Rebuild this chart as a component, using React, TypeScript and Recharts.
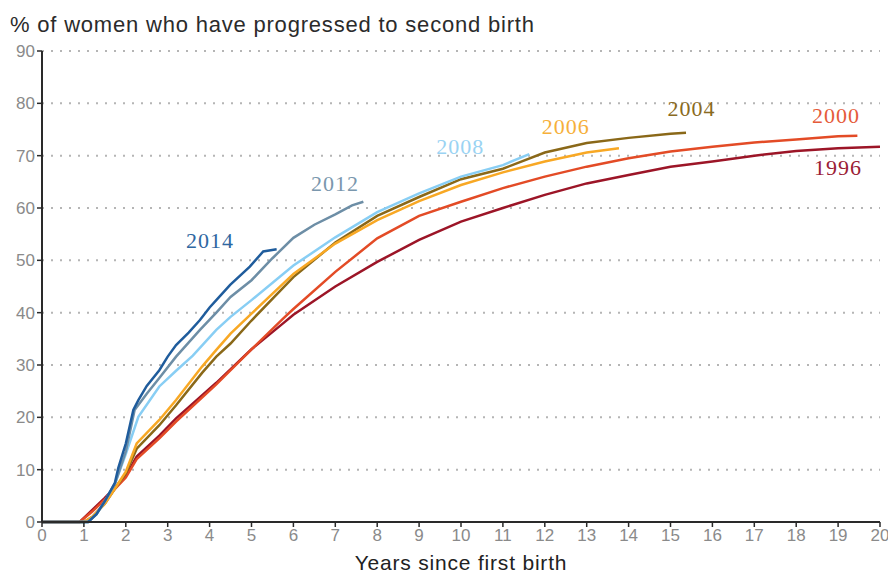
import React from "react";
import { LineChart, Line, XAxis, YAxis, CartesianGrid, ReferenceDot } from "recharts";

// Years since first birth (x) and % progressed to second birth (y), per cohort
const years2014 = [0, 1.1, 1.3, 1.5, 1.74, 1.82, 2.0, 2.18, 2.3, 2.5, 2.8, 3.0, 3.2, 3.5, 3.77, 4.0, 4.16, 4.49, 4.96, 5.28, 5.6];
const pct2014 = [0, 0, 1.5, 4, 7.5, 10.3, 15, 21.4, 23.3, 26, 29, 31.6, 33.8, 36.2, 38.6, 41, 42.4, 45.3, 48.8, 51.7, 52.1];

const years2012 = [0, 1.1, 1.3, 1.5, 1.75, 2.0, 2.21, 2.5, 2.8, 3.2, 3.77, 4.16, 4.5, 5, 5.5, 6, 6.5, 7, 7.4, 7.67];
const pct2012 = [0, 0, 1.5, 4, 7.5, 13.5, 21.4, 24.5, 27.5, 31.6, 36.7, 40, 43, 46.2, 50.4, 54.3, 56.8, 58.8, 60.5, 61.2];

const years2008 = [0, 1.1, 1.3, 1.5, 1.75, 2.0, 2.3, 2.8, 3.2, 3.6, 4.16, 4.5, 5, 6, 7, 8, 9, 10, 11, 11.63];
const pct2008 = [0, 0, 1.5, 4, 7.5, 13, 20.1, 25.9, 28.9, 31.8, 36.7, 39.2, 42.4, 49, 54.4, 59.2, 62.8, 66, 68.2, 70.3];

const years2006 = [0, 1.0, 1.2, 1.5, 1.75, 2.0, 2.26, 2.8, 3.2, 3.82, 4.16, 4.5, 5, 6, 7, 8, 9, 10, 11, 12, 13, 13.77];
const pct2006 = [0, 0, 1, 3.5, 6.5, 9.6, 15, 19.5, 23.3, 29.7, 32.9, 36, 39.8, 47.4, 53.2, 57.7, 61.3, 64.4, 66.8, 68.9, 70.6, 71.4];

const years2004 = [0, 1.0, 1.2, 1.5, 1.75, 2.0, 2.26, 2.8, 3.2, 3.82, 4.16, 4.5, 5, 6, 7, 8, 9, 10, 11, 12, 13, 14, 15, 15.37];
const pct2004 = [0, 0, 1, 3.5, 6.5, 9.3, 14, 18.5, 22.3, 28.5, 31.6, 34.1, 38.5, 46.8, 53.4, 58.5, 62.1, 65.5, 67.5, 70.6, 72.4, 73.4, 74.2, 74.4];

const years2000 = [0, 0.9, 1.2, 1.5, 2.0, 2.26, 2.8, 3.2, 4.16, 5, 5.76, 6, 7, 8, 9, 10, 11, 12, 13, 14, 15, 16, 17, 18, 19, 19.46];
const pct2000 = [0, 0, 2, 4.3, 8.5, 12, 16, 19.2, 26.3, 33, 38.9, 40.7, 47.8, 54.2, 58.5, 61.2, 63.8, 66, 67.9, 69.5, 70.8, 71.7, 72.5, 73.1, 73.7, 73.8];

const years1996 = [0, 0.9, 1.2, 1.5, 2.0, 2.26, 2.8, 3.2, 4.16, 5, 5.76, 6, 7, 8, 9, 10, 11, 12, 13, 14, 15, 16, 17, 18, 19, 20];
const pct1996 = [0, 0, 2.3, 4.6, 8.8, 12.5, 16.5, 19.8, 26.6, 33, 38, 39.6, 45, 49.7, 53.9, 57.4, 60, 62.5, 64.7, 66.3, 67.9, 68.9, 70, 70.9, 71.4, 71.7];

const xTicks = [0, 1, 2, 3, 4, 5, 6, 7, 8, 9, 10, 11, 12, 13, 14, 15, 16, 17, 18, 19, 20];
const yTicks = [0, 10, 20, 30, 40, 50, 60, 70, 80, 90];

const cohortNames = ["1996", "2000", "2004", "2006", "2008", "2012", "2014"];
// label anchor points in data units (years, %)
const labelYears = [19.0, 18.95, 15.5, 12.5, 9.98, 6.99, 4.01];
const labelPcts = [67.8, 77.8, 79.1, 75.7, 71.9, 64.8, 53.9];

const colors: Record<string, string> = {
  "1996": "#9c1527",
  "2000": "#e34b26",
  "2004": "#8a6818",
  "2006": "#f8a824",
  "2008": "#88cef4",
  "2012": "#6d8ea6",
  "2014": "#1f5c9c",
};
const labelColors: Record<string, string> = {
  "1996": "#9a2035",
  "2000": "#e55a3a",
  "2004": "#8a6a22",
  "2006": "#f6b03a",
  "2008": "#9ad3f3",
  "2012": "#7a97ad",
  "2014": "#2f67a1",
};

const zip = (xs: number[], ys: number[]) => xs.map((x, i) => ({ x, y: ys[i] }));

const series: { name: string; data: { x: number; y: number }[] }[] = [
  { name: "1996", data: zip(years1996, pct1996) },
  { name: "2000", data: zip(years2000, pct2000) },
  { name: "2004", data: zip(years2004, pct2004) },
  { name: "2006", data: zip(years2006, pct2006) },
  { name: "2008", data: zip(years2008, pct2008) },
  { name: "2012", data: zip(years2012, pct2012) },
  { name: "2014", data: zip(years2014, pct2014) },
];

const sans = "'Liberation Sans', Arial, Helvetica, sans-serif";
const serif = "'Liberation Serif', 'Times New Roman', serif";

export default function App() {
  return (
    <div style={{ position: "absolute", left: 0, top: 0, width: 888, height: 574, background: "#fff" }}>
      <div
        style={{
          position: "absolute",
          left: 10,
          top: 12,
          fontFamily: sans,
          fontSize: 22,
          color: "#2b2b2b",
          whiteSpace: "nowrap",
          letterSpacing: 0.8,
        }}
      >
        % of women who have progressed to second birth
      </div>
      <LineChart width={888} height={574} margin={{ top: 51, right: 8, bottom: 0, left: 0 }}>
        <CartesianGrid
          vertical={false}
          stroke="#b5b5b5"
          strokeWidth={2}
          strokeDasharray="2 7"
        />
        <XAxis
          dataKey="x"
          type="number"
          domain={[0, 20]}
          ticks={xTicks}
          interval={0}
          allowDuplicatedCategory={false}
          height={52}
          axisLine={{ stroke: "#2a2a2a", strokeWidth: 2 }}
          tickLine={{ stroke: "#2a2a2a", strokeWidth: 1.5 }}
          tickSize={5}
          tick={{ fill: "#8a8a8a", fontSize: 17, fontFamily: sans }}
          label={{
            value: "Years since first birth",
            position: "insideBottom",
            offset: 4,
            fill: "#222",
            fontSize: 21,
            fontFamily: sans,
            letterSpacing: 0.8,
          }}
        />
        <YAxis
          type="number"
          domain={[0, 90]}
          ticks={yTicks}
          interval={0}
          width={42}
          axisLine={{ stroke: "#2a2a2a", strokeWidth: 2 }}
          tickLine={{ stroke: "#2a2a2a", strokeWidth: 1.5 }}
          tickSize={5}
          tick={{ fill: "#8a8a8a", fontSize: 17, fontFamily: sans }}
        />
        {series.map((s) => (
          <Line
            key={s.name}
            data={s.data}
            dataKey="y"
            type="linear"
            stroke={colors[s.name]}
            strokeWidth={2.5}
            dot={false}
            activeDot={false}
            isAnimationActive={false}
          />
        ))}
        {cohortNames.map((name, i) => (
          <ReferenceDot
            key={"lbl" + name}
            x={labelYears[i]}
            y={labelPcts[i]}
            r={0}
            fill="none"
            stroke="none"
            ifOverflow="visible"
            label={{
              value: name,
              position: "center",
              fill: labelColors[name],
              fontSize: 22,
              fontFamily: serif,
              letterSpacing: 1,
            }}
          />
        ))}
      </LineChart>
    </div>
  );
}
